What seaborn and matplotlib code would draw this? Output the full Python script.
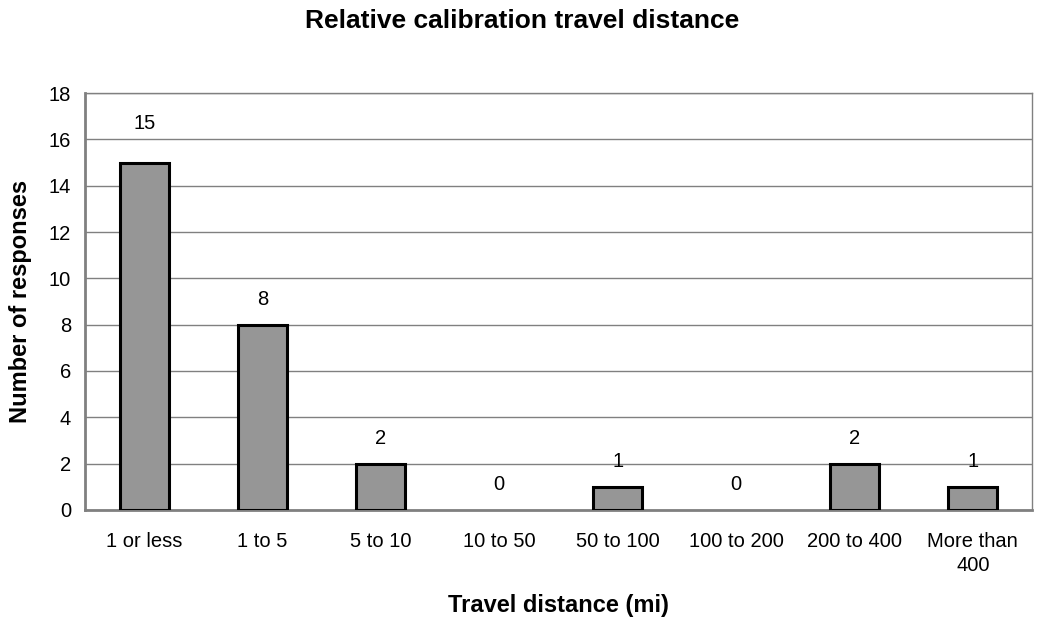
import matplotlib
matplotlib.use("Agg")
import matplotlib.pyplot as plt
import seaborn as sns
import pandas as pd
import numpy as np

categories = ["1 or less", "1 to 5", "5 to 10", "10 to 50", "50 to 100",
              "100 to 200", "200 to 400", "More than\n400"]
responses = [15, 8, 2, 0, 1, 0, 2, 1]
y_ticks = [0, 2, 4, 6, 8, 10, 12, 14, 16, 18]

sns.set_style("white")
plt.rcParams['font.family'] = ['Liberation Sans', 'DejaVu Sans']
plt.rcParams['text.color'] = 'black'
plt.rcParams['axes.labelcolor'] = 'black'
plt.rcParams['xtick.color'] = 'black'
plt.rcParams['ytick.color'] = 'black'

df = pd.DataFrame({"cat": categories, "n": responses})

fig = plt.figure(figsize=(10.44, 6.23), dpi=100)
ax = fig.add_axes([0.0814, 0.1814, 0.9071, 0.6693])

sns.barplot(data=df, x="cat", y="n", ax=ax, color="#969696", width=0.415,
            edgecolor="black", linewidth=2.2, saturation=1, zorder=3)
for p in ax.patches:
    if p.get_height() == 0:
        p.set_linewidth(0)

ax.set_ylim(0, 18)
ax.set_xlim(-0.5, len(categories) - 0.5)
ax.set_yticks(y_ticks)
ax.set_yticklabels([str(t) for t in y_ticks], fontsize=14.5)
ax.yaxis.grid(True, color="#808080", linewidth=1, zorder=0)
ax.set_axisbelow(True)

ax.set_xticks(range(len(categories)))
ax.set_xticklabels(categories, fontsize=14.5, linespacing=1.3)
ax.tick_params(axis="x", which="major", length=0, pad=16)
ax.set_xticks(np.arange(-0.5, len(categories), 1.0), minor=True)
ax.tick_params(axis="x", which="minor", length=6, color="#808080", direction="out")
ax.tick_params(axis="y", length=6, color="#808080", direction="out", pad=4)

for s in ["left", "bottom"]:
    ax.spines[s].set_color("#808080")
    ax.spines[s].set_linewidth(2)
for s in ["top", "right"]:
    ax.spines[s].set_color("#808080")
    ax.spines[s].set_linewidth(1)

for i, v in enumerate(responses):
    off = 28 if v >= 10 else 18
    ax.annotate(str(v), (i, v), xytext=(0, off), textcoords="offset points",
                ha="center", va="center", fontsize=14.5, color="black")

ax.set_xlabel("Travel distance (mi)", fontsize=17, fontweight="bold", labelpad=14)
ax.set_ylabel("Number of responses", fontsize=17, fontweight="bold", labelpad=12)
fig.suptitle("Relative calibration travel distance", fontsize=19, fontweight="bold",
             y=0.985, color="black")

fig.savefig("out.png", dpi=100)
